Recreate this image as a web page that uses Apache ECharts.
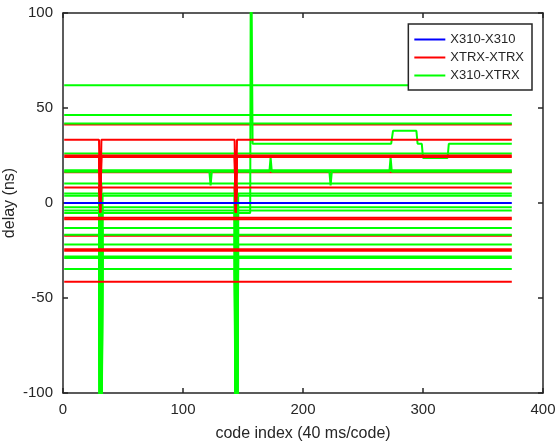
<!DOCTYPE html>
<html>
<head>
<meta charset="utf-8">
<script src="https://cdn.jsdelivr.net/npm/echarts@6/dist/echarts.min.js"></script>
<style>
  html, body { margin: 0; padding: 0; background: #fff; }
  #chart { width: 557px; height: 441px; }
</style>
</head>
<body>
<div id="chart"></div>
<script>
// x range of every trace (code index)
const xFirst = 1;
const xLast = 374;

// flat traces, level in ns read at the right end of the plot
const blueLevels = [0];
const redLevels = [33.3, 25.0, 24.2, 8.2, -7.7, -8.5, -24.3, -25.1, -41.4];
const redHiddenLevels = [41.3, 16.2, -17.2]; // red traces mostly covered by green ones
const greenLevels = [62.0, 46.3, 41.9, 26.0, 17.2, 10.2, 5.0, 3.8, -2.2, -4.0, -13.2, -16.7, -21.9, -28.2, -29.0, -34.7];

// glitches: red traces fall to redDropTo, lower green traces fall off the bottom
const redDropLevels = [33.3, 25.0, 24.2, 8.2];
const redDropX = [31, 144];
const redDropTo = -5;
const greenDropLevels = [10.2, 5.0, 3.8, -2.2, -4.0, -13.2, -16.7, -21.9, -28.2, -29.0, -34.7];
const greenDropX = [[31, 144], [32, 145]];
const greenDropTo = -160;

// the two green traces that are not flat
const greenWobble = [[1, 16.5], [122, 16.5], [123, 9.3], [124, 16.5], [172, 16.5], [173, 24], [174, 16.5],
  [222, 16.5], [223, 9.3], [224, 16.5], [272, 16.5], [273, 24], [274, 16.5], [374, 16.5]];
const greenJump = [[1, -5.3], [30, -5.3], [31, -160], [32, -5.3], [143, -5.3], [144, -160], [145, -5.3],
  [156, -5.3], [156.6, 160], [157.4, 160], [158, 31.2], [273.5, 31.2], [275, 38], [294.5, 38], [295.5, 31.2],
  [299, 31.2], [300, 23.7], [320.5, 23.7], [321.5, 31.2], [374, 31.2]];

const xTicks = [0, 100, 200, 300, 400];
const yTicks = [-100, -50, 0, 50, 100];

const BLUE = '#0000ff', RED = '#ff0000', GREEN = '#00ff00';
const TEXT = '#262626';
const FONT = '"Liberation Sans", Arial, Helvetica, sans-serif';

function trace(level, drops, dropTo) {
  const pts = [[xFirst, level]];
  (drops || []).forEach(x => {
    pts.push([x - 1, level], [x, dropTo], [x + 1, level]);
  });
  pts.push([xLast, level]);
  return pts;
}

function lineSeries(name, color, data, z) {
  return {
    type: 'line',
    name: name,
    data: data,
    z: z,
    showSymbol: false,
    symbol: 'none',
    animation: false,
    silent: true,
    itemStyle: { color: color },
    lineStyle: { color: color, width: 2 },
  };
}

const series = [];
let k = 0;
greenLevels.forEach(v => {
  let drops = null;
  if (greenDropLevels.indexOf(v) >= 0) { drops = greenDropX[k % 2]; k++; }
  series.push(lineSeries('X310-XTRX', GREEN, trace(v, drops, greenDropTo), 2));
});
series.push(lineSeries('X310-XTRX', GREEN, greenWobble, 2));
series.push(lineSeries('X310-XTRX', GREEN, greenJump, 2));
redHiddenLevels.forEach(v => {
  series.push(lineSeries('XTRX-XTRX', RED, trace(v), 1));
});
redLevels.forEach(v => {
  const drops = redDropLevels.indexOf(v) >= 0 ? redDropX : null;
  series.push(lineSeries('XTRX-XTRX', RED, trace(v, drops, redDropTo), 3));
});
blueLevels.forEach(v => {
  series.push(lineSeries('X310-X310', BLUE, trace(v), 4));
});

const axisLine = { show: true, onZero: false, lineStyle: { color: TEXT, width: 1.5 } };
const axisTick = { show: true, inside: true, length: 5, lineStyle: { color: TEXT, width: 1.5 } };
const labelStyle = { color: TEXT, fontSize: 15, fontFamily: FONT };

const chart = echarts.init(document.getElementById('chart'), null, { renderer: 'canvas' });
chart.setOption({
  animation: false,
  backgroundColor: '#fff',
  grid: { left: 63, top: 13, width: 480, height: 380, containLabel: false, outerBoundsMode: 'none' },
  legend: {
    data: ['X310-X310', 'XTRX-XTRX', 'X310-XTRX'],
    orient: 'vertical',
    right: 25,
    top: 24,
    icon: 'rect',
    itemWidth: 31,
    itemHeight: 2,
    itemGap: 5,
    padding: [9, 8, 8, 6],
    backgroundColor: '#fff',
    borderColor: TEXT,
    borderWidth: 1.5,
    selectedMode: false,
    textStyle: { color: TEXT, fontSize: 13, fontFamily: FONT },
  },
  xAxis: [
    {
      type: 'value', min: xTicks[0], max: xTicks[xTicks.length - 1], interval: 100,
      name: 'code index (40 ms/code)', nameLocation: 'middle', nameGap: 33, nameMoveOverlap: false,
      nameTextStyle: { color: TEXT, fontSize: 16, fontFamily: FONT },
      axisLine: axisLine, axisTick: axisTick,
      axisLabel: Object.assign({ margin: 9 }, labelStyle),
      splitLine: { show: false },
    },
    {
      type: 'value', position: 'top', min: xTicks[0], max: xTicks[xTicks.length - 1], interval: 100,
      axisLine: axisLine, axisTick: axisTick, axisLabel: { show: false }, splitLine: { show: false },
    },
  ],
  yAxis: [
    {
      type: 'value', min: yTicks[0], max: yTicks[yTicks.length - 1], interval: 50,
      name: 'delay (ns)', nameLocation: 'middle', nameGap: 45, nameMoveOverlap: false,
      nameTextStyle: { color: TEXT, fontSize: 16, fontFamily: FONT },
      axisLine: axisLine, axisTick: axisTick,
      axisLabel: Object.assign({ margin: 10 }, labelStyle),
      splitLine: { show: false },
    },
    {
      type: 'value', position: 'right', min: yTicks[0], max: yTicks[yTicks.length - 1], interval: 50,
      axisLine: axisLine, axisTick: axisTick, axisLabel: { show: false }, splitLine: { show: false },
    },
  ],
  series: series,
});
window.addEventListener('resize', chart.resize);
</script>
</body>
</html>
